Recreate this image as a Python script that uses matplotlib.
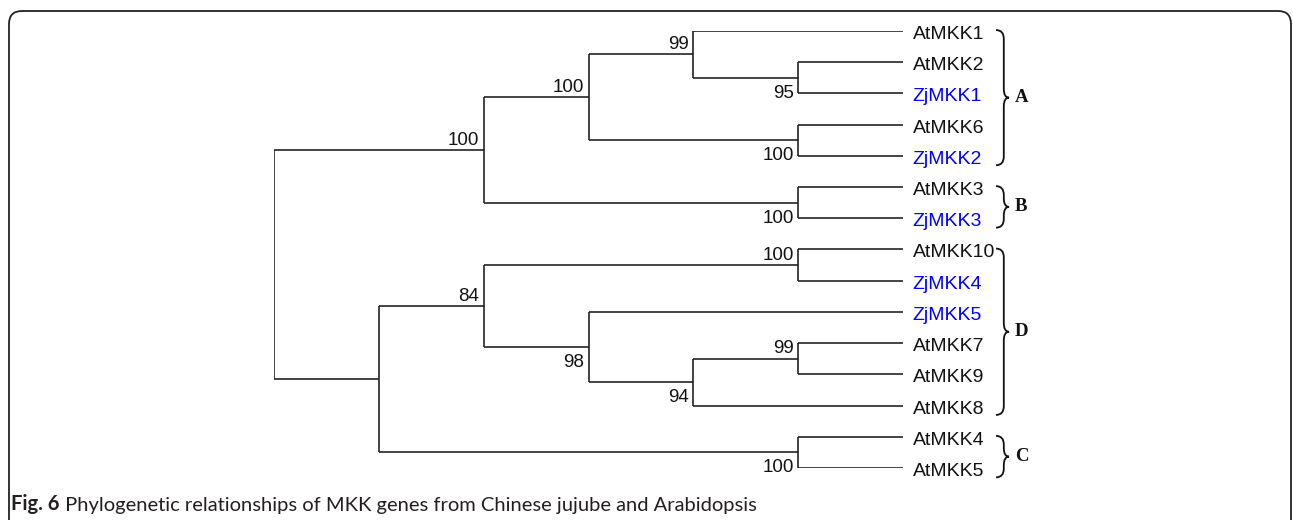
import matplotlib
matplotlib.use("Agg")
import matplotlib.pyplot as plt
from matplotlib.patches import FancyBboxPatch, PathPatch
from matplotlib.path import Path

# MKK gene tree: (bootstrap, [children]); leaves are gene names
tree = (None, [
    (100, [
        (100, [
            (99, ["AtMKK1", (95, ["AtMKK2", "ZjMKK1"])]),
            (100, ["AtMKK6", "ZjMKK2"]),
        ]),
        (100, ["AtMKK3", "ZjMKK3"]),
    ]),
    (None, [
        (84, [
            (100, ["AtMKK10", "ZjMKK4"]),
            (98, ["ZjMKK5", (94, [(99, ["AtMKK7", "AtMKK9"]), "AtMKK8"])]),
        ]),
        (100, ["AtMKK4", "AtMKK5"]),
    ]),
])

group_names = ["A", "B", "D", "C"]
group_first = ["AtMKK1", "AtMKK3", "AtMKK10", "AtMKK4"]
group_last = ["ZjMKK2", "ZjMKK3", "AtMKK8", "AtMKK5"]

caption_bold = "Fig. 6"
caption_text = " Phylogenetic relationships of MKK genes from Chinese jujube and Arabidopsis"

W, H = 1293, 520
fig = plt.figure(figsize=(W / 100, H / 100), dpi=100)

# frame + caption layer in pixel units
bg = fig.add_axes([0, 0, 1, 1])
bg.set_xlim(0, W)
bg.set_ylim(H, 0)
bg.axis("off")
bg.add_patch(FancyBboxPatch((9, 11), 1282, 560,
                            boxstyle="round,pad=0,rounding_size=13",
                            fc="none", ec="#222222", lw=1.3))


def _height(node):
    if isinstance(node, str):
        return 0
    return max(_height(ch) for ch in node[1]) + 1


def collect(node, out):
    if isinstance(node, str):
        out.append(node)
    else:
        for ch in node[1]:
            collect(ch, out)
    return out


leaves = collect(tree, [])
depth = _height(tree)
n = len(leaves)

ax = fig.add_axes([274 / W, (H - 468) / H, (903 - 274) / W, (468 - 31) / H])
ax.set_xlim(0, depth)
ax.set_ylim(n - 1, 0)
ax.axis("off")

LC = "#1a1a1a"
LW = 1.15


def draw(node):
    """draw node, return (x, y); x follows node height (cladogram)"""
    if isinstance(node, str):
        return depth, leaves.index(node)
    pts = [draw(ch) for ch in node[1]]
    x = depth - _height(node)
    ys = [p[1] for p in pts]
    y = (min(ys) + max(ys)) / 2
    ax.plot([x, x], [min(ys), max(ys)], color=LC, lw=LW, solid_capstyle="butt")
    for (cx, cy), ch in zip(pts, node[1]):
        ax.plot([x, cx], [cy, cy], color=LC, lw=LW, solid_capstyle="butt")
        if not isinstance(ch, str) and ch[0] is not None:
            upper = cy == min(ys)
            ax.annotate(str(ch[0]), (cx, cy), xytext=(-3, 1 if upper else -5),
                        textcoords="offset points", ha="right",
                        va="bottom" if upper else "top",
                        fontsize=13.5, family="Liberation Sans", color="#111111")
    return x, y


draw(tree)

for i, name in enumerate(leaves):
    ax.annotate(name, (depth, i), xytext=(7, -2.5), textcoords="offset points",
                ha="left", va="center", fontsize=14, family="Liberation Sans",
                color="#0000ff" if name.startswith("Zj") else "#111111")


def brace(x0, y0, y1, w, r):
    xm = x0 + 0.6 * w
    xt = x0 + w
    ym = (y0 + y1) / 2
    verts = [(x0, y0), (xm, y0), (xm, y0 + r), (xm, ym - r), (xm, ym), (xt, ym),
             (xm, ym), (xm, ym + r), (xm, y1 - r), (xm, y1), (x0, y1)]
    codes = [Path.MOVETO, Path.CURVE3, Path.CURVE3, Path.LINETO, Path.CURVE3, Path.CURVE3,
             Path.CURVE3, Path.CURVE3, Path.LINETO, Path.CURVE3, Path.CURVE3]
    ax.add_patch(PathPatch(Path(verts, codes), fc="none", ec="#111111", lw=1.3,
                           clip_on=False))
    return xt, ym


unit = depth / (903 - 274)  # data units per pixel along x
for g, a, b in zip(group_names, group_first, group_last):
    i0, i1 = leaves.index(a), leaves.index(b)
    bx = depth + (996 - 903) * unit
    xt, ym = brace(bx, i0 - 0.03, i1 + 0.3, 13 * unit, 0.28)
    ax.text(xt + 6 * unit, ym, g, ha="left", va="center", fontsize=13.5,
            family="Liberation Serif", weight="bold", color="#111111")

t = bg.text(11, 510, caption_bold, ha="left", va="baseline", fontsize=14.5,
            family="Lato", weight="bold", color="#231f20")
bg.annotate(caption_text, xy=(1, 0), xycoords=t, va="bottom", ha="left",
            fontsize=14.5, family="Lato", color="#231f20")

fig.savefig("out.png", dpi=100)
